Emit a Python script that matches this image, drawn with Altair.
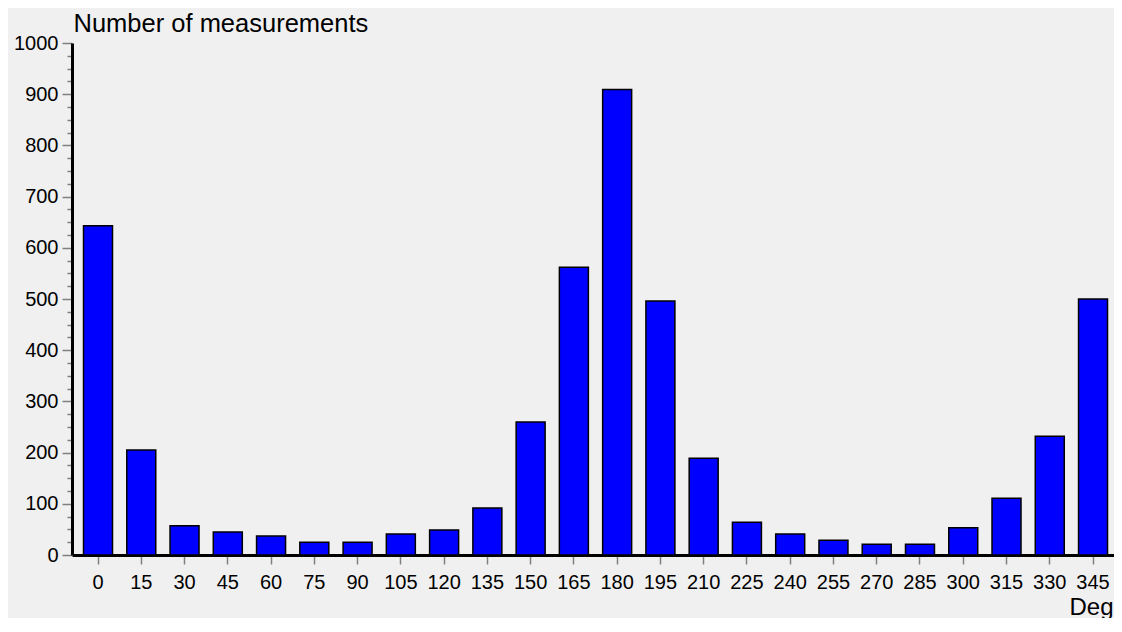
import altair as alt
import pandas as pd

degrees = [0, 15, 30, 45, 60, 75, 90, 105, 120, 135, 150, 165,
           180, 195, 210, 225, 240, 255, 270, 285, 300, 315, 330, 345]
counts = [643, 205, 57, 45, 37, 25, 25, 41, 49, 92, 260, 562,
          909, 496, 189, 64, 41, 29, 21, 21, 53, 111, 232, 500]
y_ticks = list(range(0, 1001, 25))

df = pd.DataFrame({"deg": degrees, "count": counts})

FONT = "Liberation Sans"

chart = alt.Chart(df).mark_bar(
    color="#0000ff", stroke="#000000", strokeWidth=1.5
).encode(
    x=alt.X(
        "deg:O",
        sort=degrees,
        scale=alt.Scale(paddingInner=0.33, paddingOuter=0.208, align=0.64),
        axis=alt.Axis(
            title="Degrees",
            titleFont=FONT, titleFontSize=24, titleFontWeight="normal",
            titleColor="#000000",
            titleX=997, titleY=59, titleAlign="left", titleAnchor="start",
            titleBaseline="alphabetic",
            labelAngle=0, labelFont=FONT, labelFontSize=20, labelColor="#000000",
            labelPadding=8,
            tickColor="#808080", tickSize=9, tickWidth=1.5,
            domainColor="#000000", domainWidth=3,
        ),
    ),
    y=alt.Y(
        "count:Q",
        scale=alt.Scale(domain=[0, 1000], nice=False),
        axis=alt.Axis(
            title="Number of measurements",
            titleFont=FONT, titleFontSize=25.5, titleFontWeight="normal",
            titleColor="#000000",
            titleAngle=0, titleX=1, titleY=-12, titleAlign="left",
            titleAnchor="start", titleBaseline="alphabetic",
            values=y_ticks,
            format="d",
            labelExpr="datum.value % 100 === 0 ? datum.label : ''",
            labelFont=FONT, labelFontSize=20, labelColor="#000000",
            labelPadding=4,
            tickColor="#808080",
            tickSize={"condition": {"test": "datum.value % 100 === 0", "value": 10}, "value": 5},
            tickWidth=1.5,
            domainColor="#000000", domainWidth=3,
            grid=False,
        ),
    ),
).properties(
    width=1042,
    height=512,
    autosize=alt.AutoSizeParams(type="none"),
    padding={"left": 64, "top": 35, "right": 0, "bottom": 63},
    background="#f0f0f0",
).configure_view(stroke=None)

chart.save("out.html", embed_options={"renderer": "svg", "actions": False})
